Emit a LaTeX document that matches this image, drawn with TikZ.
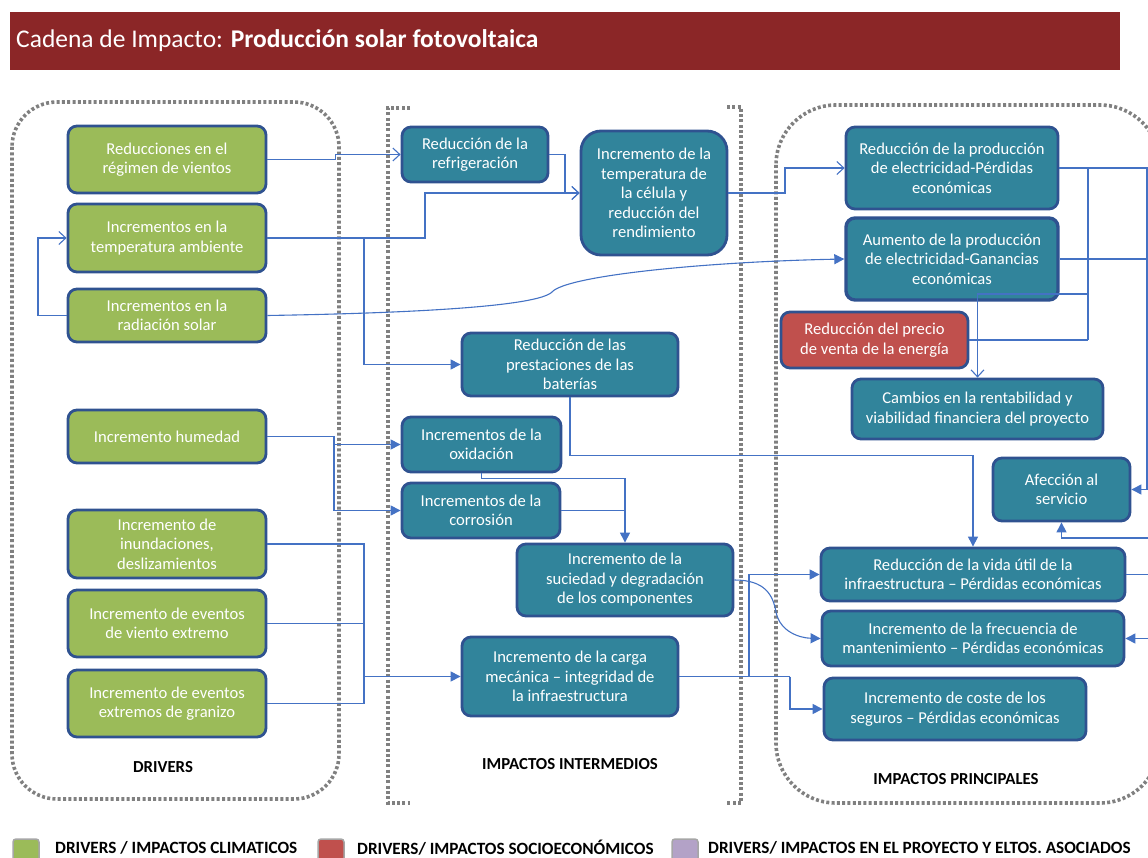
\documentclass[tikz,border=0pt]{standalone}
\usepackage{fontspec}
\setmainfont{Carlito}
\usetikzlibrary{arrows.meta}
\definecolor{titlered}{HTML}{8B2627}
\definecolor{greenf}{HTML}{9BBB59}
\definecolor{tealf}{HTML}{31849B}
\definecolor{redf}{HTML}{C0504D}
\definecolor{purplef}{HTML}{B3A2C7}
\definecolor{bordc}{HTML}{2F5290}
\definecolor{linec}{HTML}{4472C4}
\definecolor{dotc}{HTML}{808080}
\newcommand\boxfont{\fontsize{16.6}{19.5}\selectfont}
\tikzset{
  box/.style={draw=bordc, line width=2.8pt, rounded corners=9pt, align=center, text=white, font=\boxfont, inner sep=0pt},
  gbox/.style={box, fill=greenf},
  tbox/.style={box, fill=tealf},
  rbox/.style={box, fill=redf},
  conn/.style={draw=linec, line width=1.1pt},
  oarr/.style={conn, -{Straight Barb[length=7pt,width=13pt,line width=1.1pt]}},
  farr/.style={conn, -{Triangle[length=10pt,width=10pt]}},
  dotb/.style={draw=dotc, line width=3.6pt, dash pattern=on 3pt off 2.3pt},
  sect/.style={font=\fontsize{16.8}{19}\selectfont\bfseries, text=black},
  legsq/.style={draw=gray!70, line width=1.5pt, rounded corners=3pt, minimum width=26pt, minimum height=22pt, inner sep=0pt},
  legtx/.style={font=\fontsize{17.2}{19}\selectfont\bfseries, text=black, anchor=west, inner sep=0pt}
}
\begin{document}
\begin{tikzpicture}[x=1pt,y=-1pt]
\useasboundingbox (0,0) rectangle (1148,858);
\clip (0,0) rectangle (1148,858);
% title
\node[fill=titlered, minimum width=1110pt, minimum height=58pt, anchor=north west, inner sep=0pt] (title) at (10,12) {};
\node[anchor=west, text=white, font=\fontsize{25.5}{28}\selectfont, inner sep=0pt] (titletx) at (16,41) {Cadena de Impacto: \textbf{Producción solar fotovoltaica}};
% dotted regions
\draw[dotb, rounded corners=45pt] (12,102) rectangle (339,799);
\draw[dotb] (410,108) -- (388,108) -- (388,803) -- (410,803);
\draw[dotb] (727,107) -- (741,107) -- (741,803) -- (727,803);
\draw[dotb, rounded corners=60pt] (776,105) rectangle (1160,803);
% drivers
\node[gbox, minimum width=198pt, minimum height=67pt] (d1) at (167,159.5) {Reducciones en el\\régimen de vientos};
\node[gbox, minimum width=198pt, minimum height=68pt] (d2) at (167,238) {Incrementos en la\\temperatura ambiente};
\node[gbox, minimum width=198pt, minimum height=53pt] (d3) at (167,315.5) {Incrementos en la\\radiación solar};
\node[gbox, minimum width=198pt, minimum height=53pt] (d4) at (167,436.5) {Incremento humedad};
\node[gbox, minimum width=198pt, minimum height=68pt] (d5) at (167,544) {Incremento de\\inundaciones,\\deslizamientos};
\node[gbox, minimum width=198pt, minimum height=67pt] (d6) at (167,623.5) {Incremento de eventos\\de viento extremo};
\node[gbox, minimum width=198pt, minimum height=67pt] (d7) at (167,703.5) {Incremento de eventos\\extremos de granizo};
% intermediate
\node[tbox, minimum width=146pt, minimum height=55pt] (m1) at (475,154.5) {Reducción de la\\refrigeración};
\node[tbox, rounded corners=20pt, minimum width=146pt, minimum height=124pt] (m2) at (654,193) {Incremento de la\\temperatura de\\la célula y\\reducción del\\rendimiento};
\node[tbox, minimum width=216pt, minimum height=63pt] (m3) at (570,364.5) {Reducción de las\\prestaciones de las\\baterías};
\node[tbox, minimum width=159pt, minimum height=55pt] (m4) at (481.5,444.5) {Incrementos de la\\oxidación};
\node[tbox, minimum width=158pt, minimum height=55pt] (m5) at (481,510.5) {Incrementos de la\\corrosión};
\node[tbox, minimum width=216pt, minimum height=72pt] (m6) at (625,580) {Incremento de la\\suciedad y degradación\\de los componentes};
\node[tbox, minimum width=216pt, minimum height=79pt] (m7) at (570,676.5) {Incremento de la carga\\mecánica – integridad de\\la infraestructura};
% principal
\node[tbox, minimum width=212pt, minimum height=82pt] (p1) at (952,168) {Reducción de la producción\\de electricidad-Pérdidas\\económicas};
\node[tbox, line width=3.4pt, minimum width=212pt, minimum height=82pt] (p2) at (952,259) {Aumento de la producción\\de electricidad-Ganancias\\económicas};
\node[rbox, minimum width=187pt, minimum height=56pt] (p3) at (874.5,340) {Reducción del precio\\de venta de la energía};
\node[tbox, minimum width=251pt, minimum height=60pt] (p4) at (977.5,409) {Cambios en la rentabilidad y\\viabilidad financiera del proyecto};
\node[tbox, minimum width=137pt, minimum height=63pt] (p5) at (1061.5,489.5) {Afección al\\servicio};
\node[tbox, minimum width=304pt, minimum height=53pt] (p6) at (973,574.5) {Reducción de la vida útil de la\\infraestructura – Pérdidas económicas};
\node[tbox, minimum width=302pt, minimum height=55pt] (p7) at (973,638.5) {Incremento de la frecuencia de\\mantenimiento – Pérdidas económicas};
\node[tbox, minimum width=262pt, minimum height=62pt] (p8) at (955,709) {Incremento de coste de los\\seguros – Pérdidas económicas};
% section labels
\node[sect] (l1) at (163,767) {DRIVERS};
\node[sect] (l2) at (570,764) {IMPACTOS INTERMEDIOS};
\node[sect] (l3) at (956,779) {IMPACTOS PRINCIPALES};
% legend
\node[legsq, fill=greenf] (lg1) at (26,850) {};
\node[legtx] (lt1) at (55,847.5) {DRIVERS / IMPACTOS CLIMATICOS};
\node[legsq, fill=redf] (lg2) at (331,850) {};
\node[legtx] (lt2) at (357,847.5) {DRIVERS/ IMPACTOS SOCIOECONÓMICOS};
\node[legsq, fill=purplef] (lg3) at (685,850) {};
\node[legtx] (lt3) at (708,847.5) {DRIVERS/ IMPACTOS EN EL PROYECTO Y ELTOS. ASOCIADOS};
% coordinates
\coordinate (j1) at (364,238);
\coordinate (j2) at (334,444.5);
\coordinate (j3) at (364,676.5);
\coordinate (j4) at (790,676.5);
\coordinate (j5) at (749,676.5);
\coordinate (b1) at (1088,168);
\coordinate (b2) at (1088,340);
\coordinate (b3) at (1088,294);
\coordinate (e1) at (1160,168);
\coordinate (e2) at (1160,259);
\coordinate (e3) at (1147,168);
\coordinate (e4) at (1160,538);
\coordinate (e5) at (1160,574.5);
\coordinate (e6) at (1160,638.5);
% connectors
\draw[oarr] (d1.east) -- ++(68,0) |- (m1.west);
\draw[oarr] (d2.east) -- (425,238) |- (m2.west);
\draw[oarr] (m1.east) -| (565,193) -- (m2.west);
\draw[farr] (j1) |- (m3.west);
\draw[oarr] (d3.west) -- (38,315.5) |- (d2.west);
\draw[farr] (d3.east) .. controls (420,313) and (538,306) .. (552,292) .. controls (566,276) and (700,262) .. (p2.west);
\draw[oarr] (m2.east) -- (785,193) |- (p1.west);
\draw[conn] (p1.east) -- (e1);
\draw[conn] (p2.east) -- (e2);
\draw[conn] (b1) -- (b2);
\draw[conn] (p3.east) -- (b2);
\draw[oarr] (b3) -| (p4.north);
\draw[farr] (e3) |- (p5.east);
\draw[farr] (e4) -| (p5.south);
\draw[conn] (p6.east) -- (e5);
\draw[farr] (e6) -- (p7.east);
\draw[farr] (m3.south) -- ++(0,58) -| (p6.north);
\draw[farr] (d4.east) -- (334,436.5) |- (m4.west);
\draw[farr] (j2) |- (m5.west);
\draw[farr] (m4.south) -- ++(0,5.5) -| (m6.north);
\draw[conn] (m5.east) -- (m5.east -| m6.north);
\draw[conn] (d5.east) -| (364,703.5);
\draw[conn] (d6.east) -- (d6.east -| j3);
\draw[conn] (d7.east) -- (d7.east -| j3);
\draw[farr] (j3) -- (m7.west);
\draw[conn] (m7.east) -- (j4);
\draw[farr] (j4) |- (p8.west);
\draw[farr] (j5) |- (p6.west);
\draw[farr] (m6.east) .. controls (765,580) and (773,595) .. (776,612) .. controls (780,632) and (800,638) .. (p7.west);
\end{tikzpicture}
\end{document}
